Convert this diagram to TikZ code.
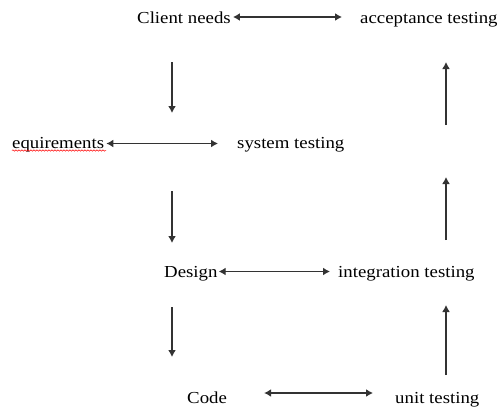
\documentclass[tikz,border=0pt]{standalone}
\usepackage{fontspec}
\setmainfont[FakeStretch=1.12]{Liberation Serif}
\usetikzlibrary{arrows.meta,decorations.pathmorphing}
\begin{document}
\begin{tikzpicture}[x=1pt,y=-1pt,
  label/.style={anchor=base west,inner sep=0pt,font=\fontsize{16.8}{20}\selectfont},
  link/.style={line width=1.5pt,color=black!80},
  tip/.tip={Latex[length=7pt,width=8pt]},
  biarrow/.style={link,tip-tip},
  onearrow/.style={link,-tip}]
\useasboundingbox (0,0) rectangle (503,407);

% left column: stages
\node[label] (client) at (137,23) {Client needs};
\node[label] (req)    at (12,148) {equirements};
\node[label] (design) at (164,277) {Design};
\node[label] (code)   at (187,403) {Code};

% right column: tests
\node[label] (accept) at (360,23) {acceptance testing};
\node[label] (system) at (237,148) {system testing};
\node[label] (integ)  at (338,277) {integration testing};
\node[label] (unit)   at (395,403) {unit testing};

% spell-check squiggle
\draw[red,line width=0.5pt,decorate,decoration={snake,segment length=3pt,amplitude=0.7pt}]
  (req.base west) ++(0,2.5) -- ++(94,0);

% row heights of the horizontal links
\coordinate (r1) at (0,17);
\coordinate (r2) at (0,143.5);
\coordinate (r3) at (0,271.5);
\coordinate (r4) at (0,393);

\draw[biarrow,shorten <=2pt,shorten >=18pt] (client.east |- r1) -- (accept.west |- r1);
\draw[biarrow,shorten <=2pt,shorten >=19pt] (req.east |- r2) -- (system.west |- r2);
\draw[biarrow,shorten <=1pt,shorten >=8pt] (design.east |- r3) -- (integ.west |- r3);
\draw[biarrow,shorten <=37pt,shorten >=22pt] (code.east |- r4) -- (unit.west |- r4);

% downward flow on the left
\coordinate (d1a) at (172,62);  \coordinate (d1b) at (172,113);
\coordinate (d2a) at (172,191); \coordinate (d2b) at (172,243);
\coordinate (d3a) at (172,307); \coordinate (d3b) at (172,357);
\draw[onearrow] (d1a) -- (d1b);
\draw[onearrow] (d2a) -- (d2b);
\draw[onearrow] (d3a) -- (d3b);

% upward flow on the right
\coordinate (u1a) at (446,125); \coordinate (u1b) at (446,62);
\coordinate (u2a) at (446,240); \coordinate (u2b) at (446,177);
\coordinate (u3a) at (446,375); \coordinate (u3b) at (446,305);
\draw[onearrow] (u1a) -- (u1b);
\draw[onearrow] (u2a) -- (u2b);
\draw[onearrow] (u3a) -- (u3b);
\end{tikzpicture}
\end{document}
